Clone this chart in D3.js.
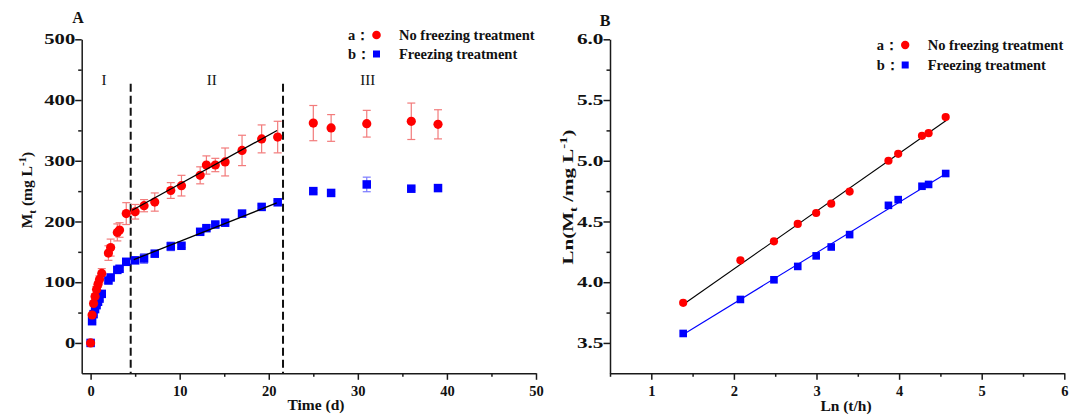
<!DOCTYPE html>
<html><head><meta charset="utf-8">
<script src="https://cdn.jsdelivr.net/npm/d3@7/dist/d3.min.js"></script>
<style>
body{margin:0;background:#fff}
svg text{font-family:"Liberation Serif","Times New Roman",serif;fill:#111}
</style></head>
<body><svg id="chart" width="1071" height="420"></svg>
<script>
// ---- Panel A: release over time (days) ----
const days   = [0, 0.167, 0.333, 0.5, 0.667, 0.833, 1, 1.25, 2, 2.25, 3, 3.25, 4, 5, 6, 7.2, 9, 10.2, 12.3, 13, 14, 15.1, 17, 19.2, 21, 25, 27, 31, 36, 39];
const noFreezeM  = [0, 46, 65, 76.5, 88, 96.5, 104.6, 114.4, 148, 157, 182, 186, 213, 216, 226, 232, 251, 259, 276, 293, 293, 298, 317, 336, 339, 362, 354, 361, 365, 360];
const noFreezeSD = [0, 3, 4, 4, 5, 5, 6, 8, 12, 14, 14, 12, 18, 12, 10, 15, 13, 17, 14, 15, 11, 23, 25, 23, 26, 29, 22, 22, 30, 24];
const freezeM    = [0, 35.8, 47.4, 55.7, 62.2, 67.8, 73, 80.8, 102.8, 107.8, 120.3, 122.1, 133.6, 136, 139, 147, 159, 160, 183, 189, 195, 198, 213, 224, 231.6, 250, 247, 261, 254, 255];
const freezeSD   = [0, 2, 2, 2, 2, 2, 3, 3, 4, 3, 3, 3, 3, 3, 8, 4, 7, 3, 3, 3, 3, 3, 3, 3, 3, 3, 2, 12, 3, 5];
// stage II linear fits (end points)
const fitNoFreezeT = [4.67, 20.93], fitNoFreezeM = [218.5, 349.8];
const fitFreezeT   = [4.85, 20.9],  fitFreezeM   = [137.2, 230.5];
// stage boundaries and labels
const stageBounds = [4.5, 21.6];
const stageLabels = ["I", "II", "III"];
const stageLabelT = [1.5, 13.6, 31.1];
const xTicksA = [0, 10, 20, 30, 40, 50], xMinorA = [5, 15, 25, 35, 45];
const yTicksA = [0, 100, 200, 300, 400, 500], yMinorA = [50, 150, 250, 350, 450];

// ---- Panel B: log-log plot (first 96 h) ----
const lnHours   = [1.386, 2.079, 2.485, 2.773, 2.996, 3.178, 3.401, 3.871, 3.989, 4.277, 4.357, 4.564];
const lnNoFreeze = [3.83, 4.18, 4.337, 4.48, 4.57, 4.647, 4.746, 5.00, 5.057, 5.205, 5.227, 5.36];
const lnFreeze   = [3.578, 3.858, 4.02, 4.13, 4.217, 4.29, 4.392, 4.633, 4.68, 4.79, 4.805, 4.895];
const fitLnNoFreezeX = [1.386, 4.57], fitLnNoFreezeY = [3.817, 5.331];
const fitLnFreezeX   = [1.386, 4.57], fitLnFreezeY   = [3.57, 4.895];
const xTicksB = [1, 2, 3, 4, 5, 6], xMinorB = [0.5, 1.5, 2.5, 3.5, 4.5, 5.5];
const yTicksB = [3.5, 4.0, 4.5, 5.0, 5.5, 6.0], yMinorB = [3.75, 4.25, 4.75, 5.25, 5.75];

const legendKeys  = ["a\uFF1A", "b\uFF1A"];
const legendNames = ["No freezing treatment", "Freezing treatment"];

const RED = "#ff0000", BLUE = "#0000ff", RED_ERR = "#f27b7b", BLUE_ERR = "#7a7aff";
const svg = d3.select("#chart");

function styleAxis(g, stretchLabels) {
  g.select(".domain").attr("stroke", "#1a1a1a").attr("stroke-width", 1.5);
  g.selectAll(".tick line").attr("stroke", "#1a1a1a").attr("stroke-width", 1.5);
  g.selectAll(".tick text").attr("font-size", 14.5).attr("font-weight", "bold")
    .style("font-family", '"Liberation Serif","Times New Roman",serif').attr("fill", "#111");
  if (stretchLabels) {
    g.selectAll(".tick text").each(function () {
      const s = this.textContent;
      const w = [...s].reduce((a, c) => a + (c === "." ? 6 : 10.3), 0);
      d3.select(this).attr("textLength", w).attr("lengthAdjust", "spacingAndGlyphs");
    });
  }
}

function drawAxes(x, y, xt, xm, yt, ym, yFmt) {
  const h = y.range()[0], l = x.range()[0];
  const gx = svg.append("g").attr("transform", `translate(0,${h})`)
    .call(d3.axisBottom(x).tickValues(xt).tickSize(6.5).tickSizeOuter(0).tickPadding(6).tickFormat(d3.format("d")));
  styleAxis(gx, false);
  const gxm = svg.append("g").attr("transform", `translate(0,${h})`)
    .call(d3.axisBottom(x).tickValues(xm).tickSize(3.5).tickSizeOuter(0).tickFormat(""));
  styleAxis(gxm, false); gxm.select(".domain").remove();
  const gy = svg.append("g").attr("transform", `translate(${l},0)`)
    .call(d3.axisLeft(y).tickValues(yt).tickSize(6.5).tickSizeOuter(0).tickPadding(0).tickFormat(yFmt));
  styleAxis(gy, true);
  const gym = svg.append("g").attr("transform", `translate(${l},0)`)
    .call(d3.axisLeft(y).tickValues(ym).tickSize(3.5).tickSizeOuter(0).tickFormat(""));
  styleAxis(gym, false); gym.select(".domain").remove();
}

function legend(x0, y0, gap, r, sq) {
  const g = svg.append("g");
  legendKeys.forEach((k, i) => {
    const yy = y0 + i * gap;
    g.append("text").attr("x", x0).attr("y", yy).attr("dy", "0.35em")
      .attr("font-size", 14.5).attr("font-weight", "bold").text(k);
    if (i === 0) g.append("circle").attr("cx", x0 + 28.5).attr("cy", yy).attr("r", r).attr("fill", RED);
    else g.append("rect").attr("x", x0 + 28.5 - sq / 2).attr("y", yy - sq / 2).attr("width", sq).attr("height", sq).attr("fill", BLUE);
    g.append("text").attr("x", x0 + 51).attr("y", yy).attr("dy", "0.35em")
      .attr("font-size", 14.5).attr("font-weight", "bold").text(legendNames[i]);
  });
}

// ================= Panel A =================
const xA = d3.scaleLinear().domain([-1, 50]).range([81.7, 536]);
const yA = d3.scaleLinear().domain([-50, 500]).range([373.3, 39.3]);

drawAxes(xA, yA, xTicksA, xMinorA, yTicksA, yMinorA, d3.format("d"));

// stage boundaries
svg.append("g").selectAll("line").data(stageBounds).join("line")
  .attr("x1", d => xA(d)).attr("x2", d => xA(d))
  .attr("y1", yA(427)).attr("y2", yA(-50))
  .attr("stroke", "#111").attr("stroke-width", 2).attr("stroke-dasharray", "8,4");
svg.append("g").selectAll("text").data(stageLabels).join("text")
  .attr("x", (d, i) => xA(stageLabelT[i])).attr("y", yA(433)).attr("dy", "0.35em")
  .attr("text-anchor", "middle").attr("font-size", 15).text(d => d);

function errorBars(xs, ys, es, x, y, color) {
  const g = svg.append("g").attr("stroke", color).attr("stroke-width", 1.2).attr("fill", "none");
  xs.forEach((t, i) => {
    if (!es[i]) return;
    const px = x(t), y1 = y(ys[i] - es[i]), y2 = y(ys[i] + es[i]);
    g.append("line").attr("x1", px).attr("x2", px).attr("y1", y1).attr("y2", y2);
    g.append("line").attr("x1", px - 4).attr("x2", px + 4).attr("y1", y1).attr("y2", y1);
    g.append("line").attr("x1", px - 4).attr("x2", px + 4).attr("y1", y2).attr("y2", y2);
  });
}
errorBars(days, noFreezeM, noFreezeSD, xA, yA, RED_ERR);
errorBars(days, freezeM, freezeSD, xA, yA, BLUE_ERR);

svg.append("g").selectAll("rect").data(days).join("rect")
  .attr("x", (d) => xA(d) - 4.25).attr("y", (d, i) => yA(freezeM[i]) - 4.25)
  .attr("width", 8.5).attr("height", 8.5).attr("fill", BLUE);
svg.append("g").selectAll("circle").data(days).join("circle")
  .attr("cx", d => xA(d)).attr("cy", (d, i) => yA(noFreezeM[i])).attr("r", 4.6).attr("fill", RED);

const lineA = d3.line().x(d => xA(d[0])).y(d => yA(d[1]));
svg.append("path").datum(d3.zip(fitNoFreezeT, fitNoFreezeM)).attr("d", lineA)
  .attr("stroke", "#000").attr("stroke-width", 1.3).attr("fill", "none");
svg.append("path").datum(d3.zip(fitFreezeT, fitFreezeM)).attr("d", lineA)
  .attr("stroke", "#000").attr("stroke-width", 1.3).attr("fill", "none");

legend(348, 35, 19, 4.3, 7);

svg.append("text").attr("x", 78).attr("y", 23).attr("text-anchor", "middle")
  .attr("font-size", 16).attr("font-weight", "bold").text("A");

// axis titles A
svg.append("text").attr("x", 316).attr("y", 410).attr("text-anchor", "middle")
  .attr("font-size", 15.5).attr("font-weight", "bold").text("Time (d)");
{
  const t = svg.append("text").attr("transform", "translate(31.5,190) rotate(-90)")
    .attr("text-anchor", "middle").attr("font-size", 15.5).attr("font-weight", "bold");
  t.append("tspan").text("M");
  t.append("tspan").attr("dy", 4).attr("font-size", 11).text("t");
  t.append("tspan").attr("dy", -4).text(" (mg L");
  t.append("tspan").attr("dy", -6).attr("font-size", 11).text("-1");
  t.append("tspan").attr("dy", 6).text(")");
}

// ================= Panel B =================
const xB = d3.scaleLinear().domain([0.5, 6]).range([610, 1064.3]);
const yB = d3.scaleLinear().domain([3.25, 6.0]).range([373.3, 39.3]);

drawAxes(xB, yB, xTicksB, xMinorB, yTicksB, yMinorB, d3.format(".1f"));

const lineB = d3.line().x(d => xB(d[0])).y(d => yB(d[1]));
svg.append("path").datum(d3.zip(fitLnNoFreezeX, fitLnNoFreezeY)).attr("d", lineB)
  .attr("stroke", "#000").attr("stroke-width", 1.1).attr("fill", "none");
svg.append("path").datum(d3.zip(fitLnFreezeX, fitLnFreezeY)).attr("d", lineB)
  .attr("stroke", BLUE).attr("stroke-width", 1.1).attr("fill", "none");

svg.append("g").selectAll("rect").data(lnHours).join("rect")
  .attr("x", d => xB(d) - 3.8).attr("y", (d, i) => yB(lnFreeze[i]) - 3.8)
  .attr("width", 7.6).attr("height", 7.6).attr("fill", BLUE);
svg.append("g").selectAll("circle").data(lnHours).join("circle")
  .attr("cx", d => xB(d)).attr("cy", (d, i) => yB(lnNoFreeze[i])).attr("r", 4.1).attr("fill", RED);

legend(876.7, 45, 20, 4.2, 7);

svg.append("text").attr("x", 605).attr("y", 26).attr("text-anchor", "middle")
  .attr("font-size", 16).attr("font-weight", "bold").text("B");

svg.append("text").attr("x", 846).attr("y", 411).attr("text-anchor", "middle")
  .attr("font-size", 15.5).attr("font-weight", "bold").text("Ln (t/h)");
{
  const t = svg.append("text").attr("transform", "translate(573,197) rotate(-90) scale(1.4,1)")
    .attr("text-anchor", "middle").attr("font-size", 15).attr("font-weight", "bold");
  t.append("tspan").text("Ln(M");
  t.append("tspan").attr("dy", 4).attr("font-size", 10.5).text("t");
  t.append("tspan").attr("dy", -4).text(" /mg L");
  t.append("tspan").attr("dy", -6).attr("font-size", 10.5).text("-1");
  t.append("tspan").attr("dy", 6).text(")");
}
</script>
</body></html>
